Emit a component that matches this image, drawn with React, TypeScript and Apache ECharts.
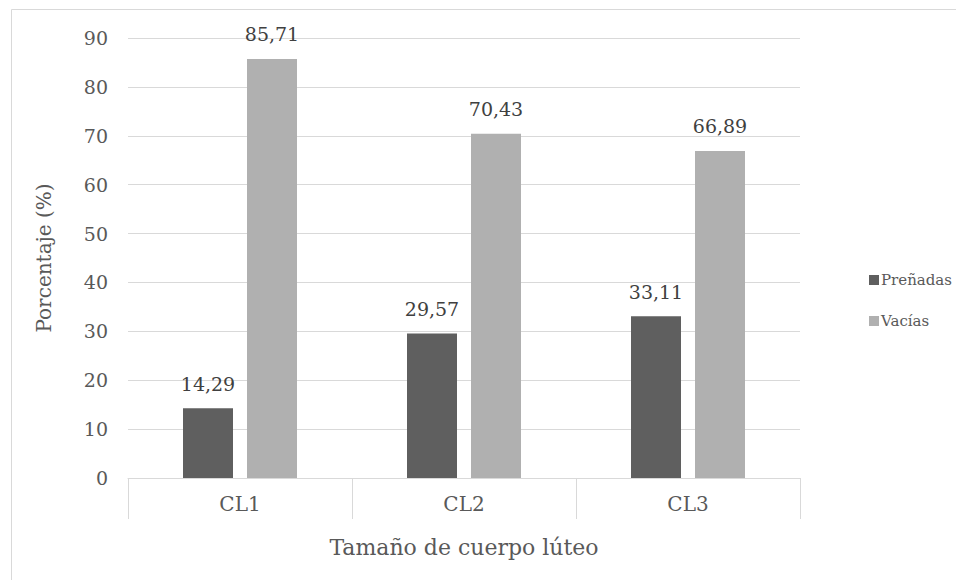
import React, { useEffect, useRef } from "react";
import * as echarts from "echarts";

const categories = ["CL1", "CL2", "CL3"];
const prenadas = [14.29, 29.57, 33.11];
const vacias = [85.71, 70.43, 66.89];
const seriesNames = ["Preñadas", "Vacías"];

const FONT = "DejaVu Serif";
const TEXT = "#595959";

export default function App() {
  const ref = useRef<HTMLDivElement>(null);
  useEffect(() => {
    if (!ref.current) return;
    const chart = echarts.init(ref.current, undefined, { renderer: "svg" });
    const fmt = (p: any) => String(p.value).replace(".", ",");
    const ts = (size: number, color = TEXT) => ({ fontFamily: FONT, fontSize: size, color });
    chart.setOption({
      animation: false,
      backgroundColor: "#ffffff",
      textStyle: { fontFamily: FONT, color: TEXT },
      graphic: [
        {
          type: "rect",
          shape: { x: 11.5, y: 9.5, width: 1000, height: 700 },
          style: { fill: "none", stroke: "#d9d9d9", lineWidth: 1 },
          silent: true,
        },
      ],
      grid: { left: 128, right: 156, top: 38, bottom: 102 },
      legend: {
        orient: "vertical",
        left: 864,
        top: 267,
        itemWidth: 10,
        itemHeight: 10,
        itemGap: 25,
        icon: "rect",
        textStyle: { ...ts(15), lineHeight: 16, padding: [0, 0, 0, -3] },
        data: seriesNames,
      },
      xAxis: {
        type: "category",
        data: categories,
        axisLine: { lineStyle: { color: "#d9d9d9", width: 1 } },
        axisTick: { show: true, length: 41, lineStyle: { color: "#d9d9d9" } },
        axisLabel: { ...ts(20), margin: 16 },
        name: "Tamaño de cuerpo lúteo",
        nameLocation: "middle",
        nameGap: 58,
        nameTextStyle: ts(22),
      },
      yAxis: {
        type: "value",
        min: 0,
        max: 90,
        interval: 10,
        axisLine: { show: false },
        axisTick: { show: false },
        splitLine: { lineStyle: { color: "#d9d9d9", width: 1 } },
        axisLabel: { ...ts(19), margin: 20 },
        name: "Porcentaje (%)",
        nameLocation: "middle",
        nameGap: 74,
        nameTextStyle: ts(20),
      },
      series: [
        {
          name: seriesNames[0],
          type: "bar",
          data: prenadas,
          barWidth: 50,
          barGap: "28%",
          itemStyle: { color: "#5f5f5f" },
          label: { show: true, position: "top", distance: 15, ...ts(19, "#404040"), formatter: fmt },
        },
        {
          name: seriesNames[1],
          type: "bar",
          data: vacias,
          barWidth: 50,
          itemStyle: { color: "#b0b0b0" },
          label: { show: true, position: "top", distance: 15, ...ts(19, "#404040"), formatter: fmt },
        },
      ],
    });
    return () => chart.dispose();
  }, []);
  return (
    <div
      ref={ref}
      style={{ position: "fixed", left: 0, top: 0, width: 956, height: 580 }}
    />
  );
}
